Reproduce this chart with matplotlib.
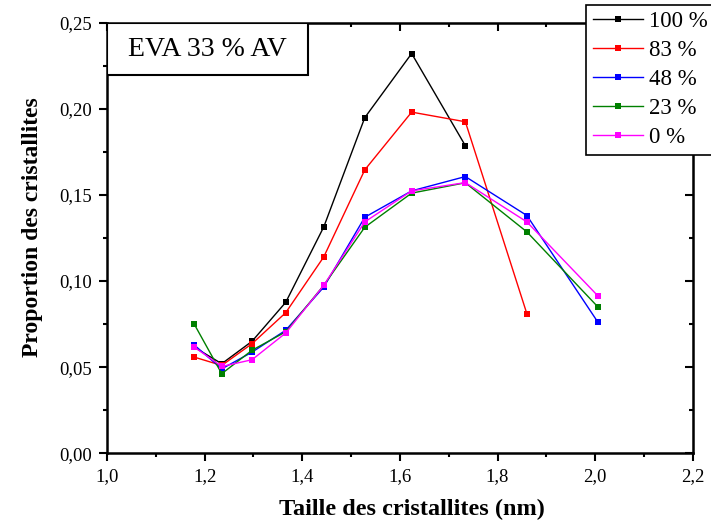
import matplotlib
matplotlib.use('Agg')
import matplotlib.pyplot as plt
from matplotlib.ticker import MultipleLocator, FuncFormatter
from matplotlib.patches import Rectangle

plt.rcParams['font.family'] = ['Liberation Serif', 'DejaVu Serif']

# taille des cristallites (nm)
taille = [1.179, 1.235, 1.297, 1.366, 1.444, 1.528, 1.624, 1.734, 1.860, 2.005]

p100 = [0.0615, 0.052, 0.065, 0.0876, 0.1314, 0.1948, 0.232, 0.1785]
p83 = [0.0558, 0.051, 0.0636, 0.0816, 0.114, 0.1645, 0.198, 0.1924, 0.081]
p48 = [0.0628, 0.049, 0.0587, 0.0714, 0.0965, 0.137, 0.1523, 0.1606, 0.138, 0.0763]
p23 = [0.0748, 0.0462, 0.0598, 0.0705, 0.0975, 0.1312, 0.151, 0.157, 0.1285, 0.0851]
p0 = [0.0616, 0.0504, 0.0543, 0.0698, 0.0975, 0.1343, 0.1523, 0.1571, 0.1343, 0.0915]

series = [(p100, '100 %', '#000000'),
          (p83, '83 %', '#ff0000'),
          (p48, '48 %', '#0000ff'),
          (p23, '23 %', '#008000'),
          (p0, '0 %', '#ff00ff')]

fig = plt.figure(figsize=(7.11, 5.27), dpi=100)
ax = fig.add_axes([0.1505, 0.1398, 0.8240, 0.8175])

for vals, lab, col in series:
    ax.plot(taille[:len(vals)], vals, color=col, lw=1.0, marker='s', ms=4.2,
            markeredgewidth=0, label=lab)

ax.set_xlim(1.0, 2.2)
ax.set_ylim(0.0, 0.25)
ax.xaxis.set_major_locator(MultipleLocator(0.2))
ax.xaxis.set_minor_locator(MultipleLocator(0.1))
ax.yaxis.set_major_locator(MultipleLocator(0.05))
ax.yaxis.set_minor_locator(MultipleLocator(0.025))
ax.xaxis.set_major_formatter(FuncFormatter(lambda v, p: ('%.1f' % v).replace('.', ',')))
ax.yaxis.set_major_formatter(FuncFormatter(lambda v, p: ('%.2f' % v).replace('.', ',')))
ax.tick_params(which='major', direction='out', length=5.8, width=1.5, labelsize=13.5)
ax.tick_params(which='minor', direction='out', length=3, width=1.5)
ax.tick_params(axis='x', which='major', pad=4.5)
ax.tick_params(axis='y', which='major', pad=5)
for s in ax.spines.values():
    s.set_linewidth(1.8)

# ticks interieurs en haut et a droite
top = ax.secondary_xaxis('top')
top.xaxis.set_major_locator(MultipleLocator(0.2))
top.xaxis.set_minor_locator(MultipleLocator(0.1))
top.tick_params(which='major', direction='in', length=5.8, width=1.5, labeltop=False)
top.tick_params(which='minor', direction='in', length=3, width=1.5)
right = ax.secondary_yaxis('right')
right.yaxis.set_major_locator(MultipleLocator(0.05))
right.yaxis.set_minor_locator(MultipleLocator(0.025))
right.tick_params(which='major', direction='in', length=5.8, width=1.5, labelright=False)
right.tick_params(which='minor', direction='in', length=3, width=1.5)

ax.set_xlabel('Taille des cristallites (nm)', fontsize=17.5, fontweight='bold')
ax.set_ylabel('Proportion des cristallites', fontsize=17, fontweight='bold')
ax.xaxis.set_label_coords(0.52, -0.105)
ax.yaxis.set_label_coords(-0.11, 0.525)

ax.add_patch(Rectangle((0.0, 0.878), 0.3436, 0.122, transform=ax.transAxes,
                       facecolor='white', edgecolor='black', lw=1.5, zorder=5))
ax.text(0.172, 0.938, 'EVA 33 % AV', transform=ax.transAxes, fontsize=20,
        ha='center', va='center', zorder=6)

leg = fig.legend(loc='upper left', bbox_to_anchor=(586 / 711, 1 - 4.5 / 527),
                 fontsize=16.5, frameon=True, fancybox=False, framealpha=1,
                 edgecolor='black', handlelength=2.2, handletextpad=0.25,
                 labelspacing=0.34, borderpad=0.3, borderaxespad=0)
leg.get_frame().set_linewidth(1.2)

fig.savefig('out.png', dpi=100)
